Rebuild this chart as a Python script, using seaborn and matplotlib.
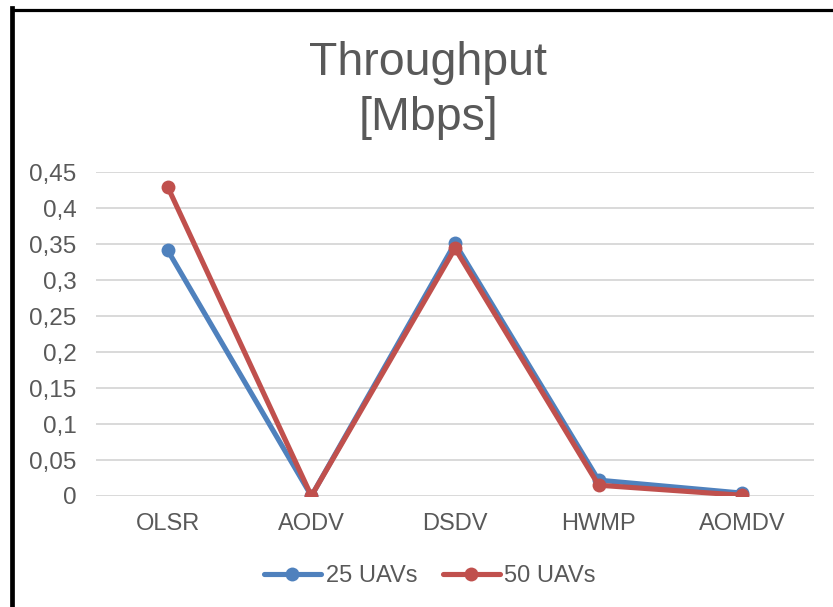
import matplotlib
matplotlib.use("Agg")
import matplotlib.pyplot as plt
from matplotlib.lines import Line2D
import seaborn as sns
import pandas as pd

protocols = ["OLSR", "AODV", "DSDV", "HWMP", "AOMDV"]
uav25 = [0.341, 0.0, 0.351, 0.022, 0.004]
uav50 = [0.429, 0.0, 0.344, 0.015, 0.001]
series_names = ["25 UAVs", "50 UAVs"]
y_ticks = [0, 0.05, 0.1, 0.15, 0.2, 0.25, 0.3, 0.35, 0.4, 0.45]
y_tick_labels = ["0", "0,05", "0,1", "0,15", "0,2", "0,25", "0,3", "0,35", "0,4", "0,45"]

BLUE = "#4F81BD"
RED = "#C0504D"
TEXT = "#595959"
GRID = "#D9D9D9"

sns.set_theme(style="white")
plt.rcParams["font.family"] = ["Liberation Sans", "DejaVu Sans"]

df = pd.DataFrame({
    "protocol": protocols * 2,
    "value": uav25 + uav50,
    "series": [series_names[0]] * len(protocols) + [series_names[1]] * len(protocols),
})

W, H = 833, 607
fig = plt.figure(figsize=(W / 100, H / 100), dpi=100)
fig.patch.set_facecolor("white")

left, right, top, bottom = 96, 814, 172, 496
ax = fig.add_axes([left / W, 1 - bottom / H, (right - left) / W, (bottom - top) / H])

for y in y_ticks:
    ax.axhline(y, color=GRID, linewidth=1.4, zorder=0)

sns.lineplot(
    data=df, x="protocol", y="value", hue="series",
    palette=[BLUE, RED], marker="o", markersize=10, markeredgewidth=0,
    linewidth=3.7, sort=False, legend=False, ax=ax, zorder=3,
)

ax.set_xlim(-0.5, len(protocols) - 0.5)
ax.set_ylim(0, 0.45)
ax.set_yticks(y_ticks)
ax.set_yticklabels(y_tick_labels)
ax.set_xticks(range(len(protocols)))
ax.set_xticklabels(protocols)
ax.tick_params(axis="y", length=0, pad=14, labelsize=17.5, labelcolor=TEXT)
ax.tick_params(axis="x", length=0, pad=12, labelsize=17, labelcolor=TEXT)
ax.set_xlabel("")
ax.set_ylabel("")
for s in ax.spines.values():
    s.set_visible(False)
ax.set_facecolor("none")

fig.text(428 / W, 1 - 41 / H, "Throughput\n[Mbps]", ha="center", va="top",
         fontsize=33.5, color=TEXT, linespacing=1.32)

handles = [
    Line2D([], [], color=BLUE, linewidth=3.7, marker="o", markersize=10, markeredgewidth=0),
    Line2D([], [], color=RED, linewidth=3.7, marker="o", markersize=10, markeredgewidth=0),
]
fig.legend(handles, series_names, loc="center", bbox_to_anchor=(430 / W, 1 - 576 / H),
           ncol=2, frameon=False, fontsize=17, labelcolor=TEXT,
           handlelength=2.4, handletextpad=0.2, columnspacing=1.1)

# outer frame (open at right and bottom)
fig.add_artist(Line2D([11.5 / W, 11.5 / W], [0, 1 - 8 / H], transform=fig.transFigure,
                      color="black", linewidth=3.4, solid_capstyle="projecting"))
fig.add_artist(Line2D([11.5 / W, 1], [1 - 9.5 / H, 1 - 9.5 / H], transform=fig.transFigure,
                      color="black", linewidth=2.3, solid_capstyle="butt"))

fig.savefig("out.png", dpi=100, facecolor="white")
